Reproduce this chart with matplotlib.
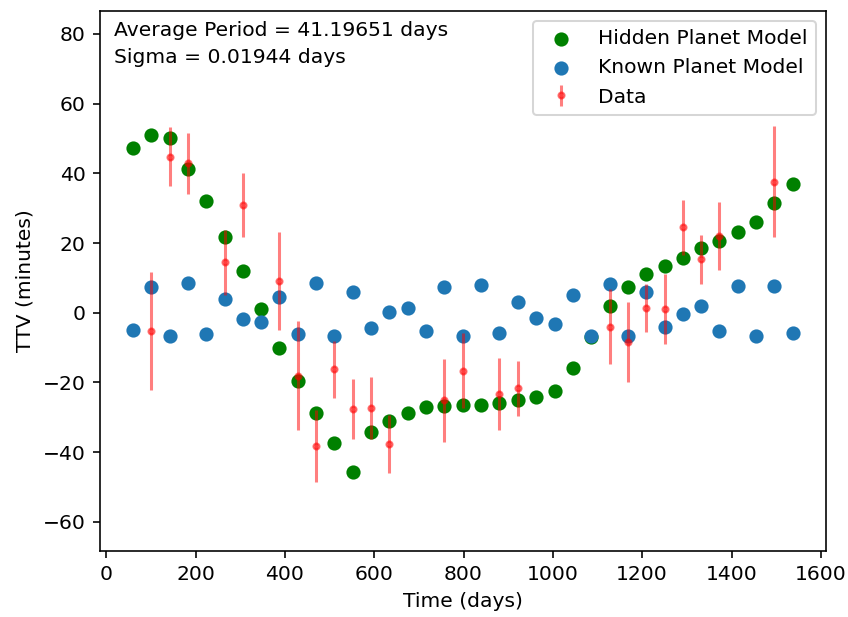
import matplotlib
matplotlib.use("Agg")
import matplotlib.pyplot as plt

# transit epochs (days)
epoch_times = [60, 101, 142, 183, 224, 265, 306, 347, 388, 429, 470, 511, 552,
               593, 634, 675, 716, 757, 798, 839, 880, 921, 962, 1004, 1045,
               1086, 1127, 1168, 1209, 1250, 1291, 1332, 1373, 1414, 1455,
               1496, 1537]

hidden_ttv = [47.4, 51.0, 50.2, 41.3, 32.1, 21.6, 12.1, 1.1, -10.0, -19.6,
              -28.9, -37.3, -45.6, -34.3, -31.0, -28.9, -27.2, -26.8, -26.4,
              -26.4, -25.9, -25.0, -24.1, -22.5, -15.8, -6.9, 1.9, 7.4, 11.1,
              13.5, 15.8, 18.7, 20.7, 23.3, 26.1, 31.4, 36.9]

known_ttv = [-4.9, 7.3, -6.6, 8.4, -6.1, 3.9, -1.9, -2.8, 4.4, -6.1, 8.4, -6.6,
             6.0, -4.5, 0.2, 1.4, -5.3, 7.3, -6.6, 8.0, -5.7, 3.1, -1.5, -3.2,
             5.2, -6.6, 8.2, -6.6, 6.0, -4.0, -0.3, 1.8, -5.3, 7.7, -6.6, 7.7,
             -5.7]

# observed transits (epoch index, TTV, error)
data_epochs = [1, 2, 3, 5, 6, 8, 9, 10, 11, 12, 13, 14, 17, 18, 20, 21, 26,
               27, 28, 29, 30, 31, 32, 35]
data_ttv = [-5.3, 44.8, 42.9, 14.5, 30.9, 9.1, -18.1, -38.2, -16.3, -27.6,
            -27.3, -37.7, -25.1, -16.6, -23.4, -21.7, -4.0, -8.5, 1.4, 1.1,
            24.5, 15.3, 22.0, 37.6]
data_err = [16.9, 8.5, 8.8, 9.3, 9.2, 14.2, 15.7, 10.3, 8.2, 8.7, 8.9, 8.2,
            11.9, 10.8, 10.4, 7.9, 10.7, 11.5, 6.9, 10.0, 7.8, 7.0, 9.8, 15.9]

data_times = [epoch_times[k] for k in data_epochs]

DPI = 146
fig = plt.figure(figsize=(848 / DPI, 617 / DPI), dpi=DPI)
ax = fig.add_axes([100 / 848, 66 / 617, 725.7 / 848, 540 / 617])

ax.scatter(epoch_times, hidden_ttv, color="green", label="Hidden Planet Model")
ax.scatter(epoch_times, known_ttv, color="#1f77b4", label="Known Planet Model")
ax.errorbar(data_times, data_ttv, yerr=data_err, fmt=".", color="red",
            alpha=0.5, label="Data")

ax.set_ylim(-68.4, 86.6)
ax.set_xlabel("Time (days)")
ax.set_ylabel("TTV (minutes)")
ax.text(0.019, 0.982, "Average Period = 41.19651 days\nSigma = 0.01944 days",
        transform=ax.transAxes, va="top", ha="left", linespacing=1.55)
ax.legend(loc="upper right")

fig.savefig("out.png", dpi=DPI)
